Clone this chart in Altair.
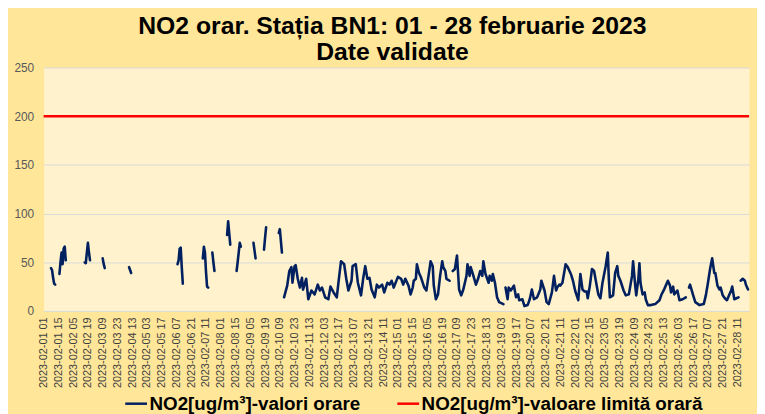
import altair as alt
import pandas as pd

SER1 = "NO2[ug/m³]-valori orare"
SER2 = "NO2[ug/m³]-valoare limită orară"

# hours since 2023-02-01 01:00 ; None marks a gap in the measured series
hours = [
    7, 8, 9, 10, 11, None,
    15, 16, 17, 18, 19, 20, 21, None,
    39, 40, 41, 42, 43, 44, None,
    56, 57, 58, None,
    81, 82, 83, None,
    127, 128, 129, 130, 131, 132, None,
    151, 152, 153, 154, 155, 156, None,
    160, 161, 162, None,
    174, 175, 176, 177, None,
    183, 184, 185, 186, 187, None,
    199, 200, 201, None,
    209, 210, 211, None,
    223, 224, 225, 226, None,
    228, 231, 233, 235, 236, 238, 239, 241, 243, 245, 246, 249, 251, 254, 257, 260,
    262, 264, 267, 270, 272, 275, 278, 280, 282, 285, 287, 289, 292, 293, 296, 298,
    301, 303, 305, 307, 309, 311, 314, 316, 318, 321, 323, 326, 328, 330, 332, 336,
    339, 341, 343, 346, 348, 350, 351, 353, 354, 356, 358, 361, 363, 365, 367, 369,
    370, 372, 374, 376, 378, 379, 381, 382, 385, None,
    388, 390, 392, 394, 396, 398, 401, 402, 404, 405, 407, 410, 412, 414, 416, 417,
    419, 422, 423, 425, 426, 428, 430, 432, 436, None,
    438, 440, 441, 443, 446, 448, 450, 451, 454, 456, 459, 461, 463, 465, 468, 471,
    472, 475, 477, 479, 482, 484, 486, 487, 489, 490, 492, 495, 497, 500, 502, 504,
    507, 509, 511, 513, 515, 516, 518, 520, 522, 524, 526, 528, 530, 533, 535, 536,
    537, 540, 542, 544, 545, 547, 550, 552, 555, 558, 559, 561, 562, 564, 565, 566,
    568, 570, 571, 573, 576, 580, 584, 586, 588, 590, 592, 594, 595, 597, 598, 601,
    603, 606, 609, None,
    612, 613, 616, 618, 622, 626, 628, 630, 632, 634, 636, 637, 639, 641, 642, 644,
    646, 648, 650, 652, 653, 655, 657, 659, None,
    661, 663, 665, 666, 668,
]
no2 = [
    44, 42, 34, 28, 27, None,
    38, 50, 60, 48, 64, 66, 52, None,
    50, 49, 60, 70, 60, 52, None,
    54, 48, 44, None,
    45, 42, 39, None,
    48, 52, 64, 65, 45, 28, None,
    54, 66, 60, 40, 25, 24, None,
    60, 50, 41, None,
    78, 92, 80, 68, None,
    41, 50, 60, 70, 66, None,
    70, 62, 54, None,
    63, 75, 86, None,
    80, 84, 72, 60, None,
    14, 26, 41, 45, 29, 46, 47, 33, 24, 34, 22, 33, 12, 21, 17, 27,
    21, 24, 14, 12, 25, 19, 14, 33, 51, 48, 33, 21, 31, 46, 48, 29,
    16, 33, 46, 33, 34, 22, 14, 27, 24, 27, 19, 29, 27, 31, 24, 35,
    33, 27, 33, 26, 17, 24, 31, 33, 48, 39, 34, 24, 21, 36, 51, 46,
    26, 12, 17, 36, 51, 45, 41, 33, 31, None,
    41, 43, 57, 22, 16, 22, 36, 48, 36, 45, 38, 27, 33, 41, 36, 51,
    38, 29, 36, 31, 38, 29, 14, 9, 7, None,
    24, 12, 24, 21, 26, 14, 17, 11, 12, 5, 6, 12, 22, 12, 14, 22,
    31, 21, 9, 7, 19, 36, 21, 24, 27, 26, 29, 48, 45, 38, 31, 21,
    11, 38, 22, 20, 20, 13, 26, 43, 41, 29, 17, 13, 29, 46, 60, 33,
    14, 16, 39, 46, 36, 31, 21, 16, 17, 36, 51, 26, 16, 33, 49, 29,
    17, 19, 12, 6, 6, 7, 11, 17, 21, 26, 31, 26, 19, 25, 17, 21,
    11, 12, 14, None,
    24, 27, 16, 9, 6, 7, 16, 29, 43, 54, 39, 39, 26, 22, 24, 16,
    13, 11, 16, 21, 25, 12, 13, 14, None,
    31, 33, 31, 27, 22,
]
limit_value = [200]
y_ticks = [0, 50, 100, 150, 200, 250]
x_tick_hours = list(range(0, 659, 14))

df = pd.DataFrame({"h": hours, "v": no2})
df["seg"] = df["v"].isna().cumsum()
df = df.dropna().copy()
df["series"] = SER1

lim = pd.DataFrame({"v": limit_value, "series": [SER2]})

color_scale = alt.Scale(domain=[SER1, SER2], range=["#002060", "#FF0000"])
xscale = alt.Scale(domain=[0, 669], nice=False, zero=False)
yscale = alt.Scale(domain=[0, 250], nice=False)

FONT = "Liberation Sans"

line = alt.Chart(df).mark_line(strokeWidth=2.6, strokeJoin="round", strokeCap="round").encode(
    x=alt.X(
        "h:Q",
        scale=xscale,
        axis=alt.Axis(
            values=x_tick_hours,
            labelExpr="timeFormat(datetime(2023, 1, 1, 1 + datum.value), '%Y-%m-%d %H')",
            labelAngle=270,
            labelAlign="right",
            labelBaseline="middle",
            labelOverlap=False,
            labelFlush=False,
            grid=False,
            ticks=False,
            domain=False,
            labelFontSize=11,
            labelFont=FONT,
            labelColor="#404040",
            labelPadding=6,
            title=None,
        ),
    ),
    y=alt.Y(
        "v:Q",
        scale=yscale,
        axis=alt.Axis(
            values=y_ticks,
            grid=True,
            gridColor="#D9D9D9",
            gridWidth=1,
            ticks=False,
            domain=False,
            labelFontSize=12,
            labelFont=FONT,
            labelColor="#595959",
            labelPadding=10,
            title=None,
        ),
    ),
    color=alt.Color(
        "series:N",
        scale=color_scale,
        legend=alt.Legend(
            orient="none",
            legendX=81,
            legendY=327,
            direction="horizontal",
            title=None,
            symbolType="stroke",
            symbolSize=484,
            symbolStrokeWidth=2.5,
            labelFontSize=19,
            labelFont=FONT,
            labelFontWeight="bold",
            labelColor="#000000",
            columnPadding=31,
            labelOffset=1,
            labelLimit=500,
        ),
    ),
    detail="seg:N",
)

rule = alt.Chart(lim).mark_rule(strokeWidth=2.5).encode(
    y=alt.Y("v:Q", scale=yscale),
    color=alt.Color("series:N", scale=color_scale),
)

chart = (
    alt.layer(rule, line)
    .properties(
        width=713,
        height=246,
        autosize=alt.AutoSizeParams(type="none"),
        padding={"left": 36, "top": 58, "right": 8, "bottom": 102},
        title=alt.Title(
            text=["NO2 orar. Stația BN1: 01 - 28 februarie 2023", "Date validate"],
            fontSize=25,
            font=FONT,
            fontWeight="bold",
            color="#000000",
            lineHeight=26,
            anchor="middle",
            frame="group",
            dx=-4,
            dy=5,
            offset=2,
        ),
    )
    .configure(background="#FFE699")
    .configure_view(fill="#FFF2CC", stroke="transparent")
)

chart.save("out.html", embed_options={"renderer": "svg", "actions": False})
